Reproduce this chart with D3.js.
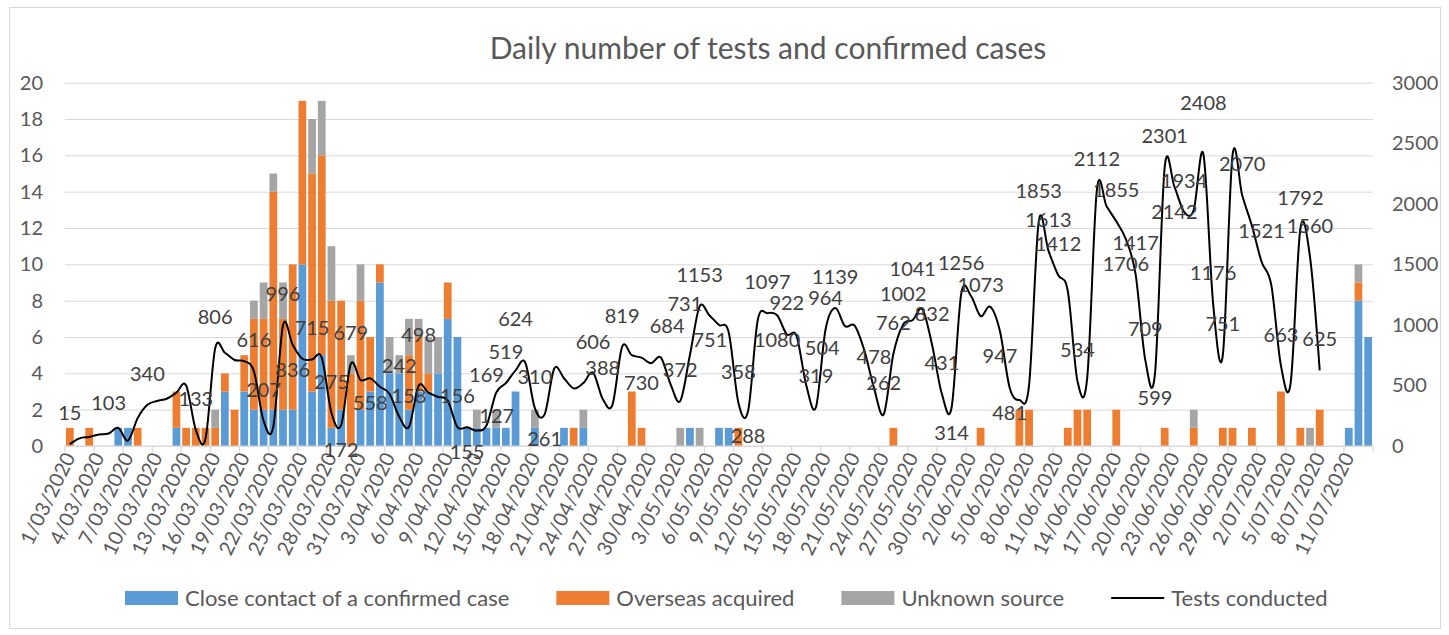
<!DOCTYPE html>
<html>
<head>
<meta charset="utf-8">
<script src="https://cdn.jsdelivr.net/npm/d3@7"></script>
<style>
  body { margin: 0; background: #fff; }
  svg text { font-family: Lato, "Open Sans", sans-serif; }
</style>
</head>
<body>
<svg id="chart" width="1449" height="635"></svg>
<script>
// Categories: one per day from 1/03/2020 to 13/07/2020
const firstDay = new Date(2020, 2, 1);
const dayCount = 135;

// Confirmed cases by source (one value per day)
const closeContact = [
  0,0,0,0,0,1,1,0,0,0,0,1,0,0,0,
  0,3,0,3,2,2,2,2,2,10,3,5,1,2,0,
  2,3,9,4,4,2,3,3,4,7,6,1,1,1,1,
  1,3,0,1,0,0,1,0,1,0,0,0,0,0,0,
  0,0,0,0,1,0,0,1,1,0,0,0,0,0,0,
  0,0,0,0,0,0,0,0,0,0,0,0,0,0,0,
  0,0,0,0,0,0,0,0,0,0,0,0,0,0,0,
  0,0,0,0,0,0,0,0,0,0,0,0,0,0,0,
  0,0,0,0,0,0,0,0,0,0,0,0,1,8,6
];
const overseasAcquired = [
  1,0,1,0,0,0,0,1,0,0,0,2,1,1,1,
  1,1,2,2,5,5,12,5,8,9,12,11,7,6,4,
  6,3,1,0,0,3,3,1,0,2,0,0,0,0,0,
  0,0,0,0,0,0,0,1,0,0,0,0,0,3,1,
  0,0,0,0,0,0,0,0,0,1,0,0,0,0,0,
  0,0,0,0,0,0,0,0,0,0,1,0,0,0,0,
  0,0,0,0,1,0,0,0,2,2,0,0,0,1,2,
  2,0,0,2,0,0,0,0,1,0,0,1,0,0,1,
  1,0,1,0,0,3,0,1,0,2,0,0,0,1,0
];
const unknownSource = [
  0,0,0,0,0,0,0,0,0,0,0,0,0,0,0,
  1,0,0,0,1,2,1,2,0,0,3,3,3,0,1,
  2,0,0,2,1,2,1,2,2,0,0,0,1,0,1,
  0,0,0,1,0,0,0,0,1,0,0,0,0,0,0,
  0,0,0,1,0,1,0,0,0,0,0,0,0,0,0,
  0,0,0,0,0,0,0,0,0,0,0,0,0,0,0,
  0,0,0,0,0,0,0,0,0,0,0,0,0,0,0,
  0,0,0,0,0,0,0,0,0,0,0,1,0,0,0,
  0,0,0,0,0,0,0,0,1,0,0,0,0,1,0
];

// Tests conducted (1/03 to 8/07)
const testsConducted = [
  15,63,75,95,103,150,45,230,340,372,
  390,440,500,133,60,806,770,710,700,616,
  207,160,996,836,720,715,730,275,172,679,
  545,558,490,430,242,158,498,440,405,375,
  156,155,127,169,440,519,624,690,310,261,
  640,560,476,520,606,388,340,819,750,730,
  684,731,510,372,751,1153,1080,1000,940,358,
  288,1040,1097,1080,922,910,504,319,964,1139,
  990,995,790,478,262,762,1002,1041,1129,832,
  431,314,1256,1240,1073,1150,947,481,380,500,
  1853,1613,1412,1280,534,560,2112,1980,1855,1706,
  1417,709,599,2301,2142,1934,1950,2408,1176,751,
  2400,2070,1820,1521,1330,663,520,1792,1560,625
];
// Days whose test count carries a data label
const labelledDays = [
  0,4,8,13,15,19,20,22,23,25,27,28,29,31,34,35,36,40,41,42,
  43,45,46,48,49,54,55,57,59,60,61,63,64,65,69,70,72,73,74,76,
  77,78,79,83,84,85,86,87,89,90,91,92,94,96,97,100,101,102,104,106,
  108,109,110,111,112,113,114,115,117,118,119,121,123,125,127,128,129
];

const leftTicks = [0,2,4,6,8,10,12,14,16,18,20];
const rightTicks = [0,500,1000,1500,2000,2500,3000];
const seriesNames = ['Close contact of a confirmed case', 'Overseas acquired', 'Unknown source', 'Tests conducted'];
const colors = ['#5b9bd5', '#ed7d31', '#a5a5a5'];

const svg = d3.select('#chart');
const plotLeft = 65, plotRight = 1373, plotTop = 82.7, plotBottom = 446;
const textColor = '#595959';

// chart border
svg.append('rect')
  .attr('x', 9.5).attr('y', 7.5).attr('width', 1431).attr('height', 621)
  .attr('fill', 'none').attr('stroke', '#d9d9d9');

let days = d3.range(dayCount);
let x = d3.scaleBand().domain(days).range([plotLeft, plotRight]).paddingInner(0.2).paddingOuter(0.1);
let yLeft = d3.scaleLinear().domain([0, 20]).range([plotBottom, plotTop]);
let yRight = d3.scaleLinear().domain([0, 3000]).range([plotBottom, plotTop]);
let fmt = d3.timeFormat('%-d/%m/%Y');

// gridlines
svg.append('g')
  .attr('transform', `translate(${plotLeft},0)`)
  .call(d3.axisLeft(yLeft).tickValues(leftTicks).tickSize(-(plotRight - plotLeft)).tickFormat(''))
  .call(g => g.select('.domain').remove())
  .call(g => g.selectAll('line').attr('stroke', '#d9d9d9'));

// stacked bars
let rows = days.map(i => ({ close: closeContact[i], overseas: overseasAcquired[i], unknown: unknownSource[i] }));
let stacked = d3.stack().keys(['close', 'overseas', 'unknown'])(rows);
svg.append('g').selectAll('g')
  .data(stacked)
  .enter().append('g')
    .attr('fill', (d, k) => colors[k])
  .selectAll('rect')
  .data(d => d.map((s, i) => ({ s: s, i: i })).filter(p => p.s[1] > p.s[0]))
  .enter().append('rect')
    .attr('x', p => x(p.i))
    .attr('width', x.bandwidth())
    .attr('y', p => yLeft(p.s[1]))
    .attr('height', p => yLeft(p.s[0]) - yLeft(p.s[1]));

// x axis line and tick marks between categories
svg.append('line')
  .attr('x1', plotLeft).attr('x2', plotRight).attr('y1', plotBottom).attr('y2', plotBottom)
  .attr('stroke', '#d9d9d9').attr('stroke-width', 1.2);
svg.append('g').selectAll('line')
  .data(d3.range(0, dayCount + 1, 3))
  .enter().append('line')
    .attr('x1', i => plotLeft + i * x.step()).attr('x2', i => plotLeft + i * x.step())
    .attr('y1', plotBottom).attr('y2', plotBottom + 6)
    .attr('stroke', '#d9d9d9').attr('stroke-width', 1.2);

// x tick labels
svg.append('g').selectAll('text')
  .data(d3.range(0, dayCount, 3))
  .enter().append('text')
    .attr('transform', i => `translate(${x(i) + x.bandwidth() / 2 + 6},${plotBottom + 11}) rotate(-64)`)
    .attr('text-anchor', 'end')
    .attr('fill', textColor)
    .style('font-size', '20px')
    .text(i => fmt(d3.timeDay.offset(firstDay, i)));

// left and right value axes
svg.append('g')
  .attr('transform', `translate(${plotLeft},0)`)
  .call(d3.axisLeft(yLeft).tickValues(leftTicks).tickSize(0).tickPadding(22))
  .call(g => g.select('.domain').remove())
  .call(g => g.selectAll('text').attr('fill', textColor).style('font-size', '20px').style('font-family', 'Lato'));
svg.append('g')
  .attr('transform', `translate(${plotRight},0)`)
  .call(d3.axisRight(yRight).tickValues(rightTicks).tickSize(0).tickPadding(19).tickFormat(d3.format('d')))
  .call(g => g.select('.domain').remove())
  .call(g => g.selectAll('text').attr('fill', textColor).style('font-size', '20px').style('font-family', 'Lato'));

// tests line
let cx = i => x(i) + x.bandwidth() / 2;
svg.append('path')
  .datum(testsConducted)
  .attr('fill', 'none')
  .attr('stroke', '#000')
  .attr('stroke-width', 2)
  .attr('d', d3.line().x((v, i) => cx(i)).y(v => yRight(v)).curve(d3.curveCardinal));

// data labels: above the point, nudged to a free spot when they would collide
let placed = [];
let nudges = [[0, -24], [0, -44], [16, -30], [-16, -30], [0, 32], [20, -8], [-20, -8],
              [24, -46], [-24, -46], [0, -64], [0, 52], [30, -24], [-30, -24], [0, -84]];
let overlaps = b => placed.some(p => b.x0 < p.x1 && b.x1 > p.x0 && b.y0 < p.y1 && b.y1 > p.y0);
let labelLayer = svg.append('g');
labelledDays.forEach(i => {
  let px = cx(i), py = yRight(testsConducted[i]);
  let t = labelLayer.append('text')
    .attr('text-anchor', 'middle')
    .attr('fill', '#404040')
    .style('font-size', '20px')
    .text(testsConducted[i]);
  let w = t.node().getComputedTextLength();
  let boxes = nudges.map(n => ({ x0: px + n[0] - w / 2 - 1, x1: px + n[0] + w / 2 + 1, y0: py + n[1] - 16, y1: py + n[1] + 4 }));
  let box = boxes.find(b => !overlaps(b)) || boxes[0];
  placed.push(box);
  t.attr('x', (box.x0 + box.x1) / 2).attr('y', box.y1 - 4);
});

// title, fitted to the width it has in the picture
let title = svg.append('text')
  .attr('x', 768).attr('y', 59)
  .attr('text-anchor', 'middle')
  .attr('fill', textColor)
  .style('font-size', '26px')
  .text('Daily number of tests and confirmed cases');
let tw = title.node().getComputedTextLength();
title.style('font-size', (26 * 557 / tw) + 'px');

// legend
let legend = svg.append('g');
let lx = 125, ly = 598;
seriesNames.forEach((name, k) => {
  if (k < 3) {
    legend.append('rect')
      .attr('x', lx).attr('y', ly - 7).attr('width', 53).attr('height', 14)
      .attr('fill', colors[k]);
  } else {
    legend.append('line')
      .attr('x1', lx).attr('x2', lx + 53).attr('y1', ly).attr('y2', ly)
      .attr('stroke', '#000').attr('stroke-width', 2);
  }
  let t = legend.append('text')
    .attr('x', lx + 60).attr('y', ly + 8)
    .attr('fill', textColor)
    .style('font-size', '22px')
    .text(name);
  lx = lx + 60 + t.node().getComputedTextLength() + 47;
});
</script>
</body>
</html>
